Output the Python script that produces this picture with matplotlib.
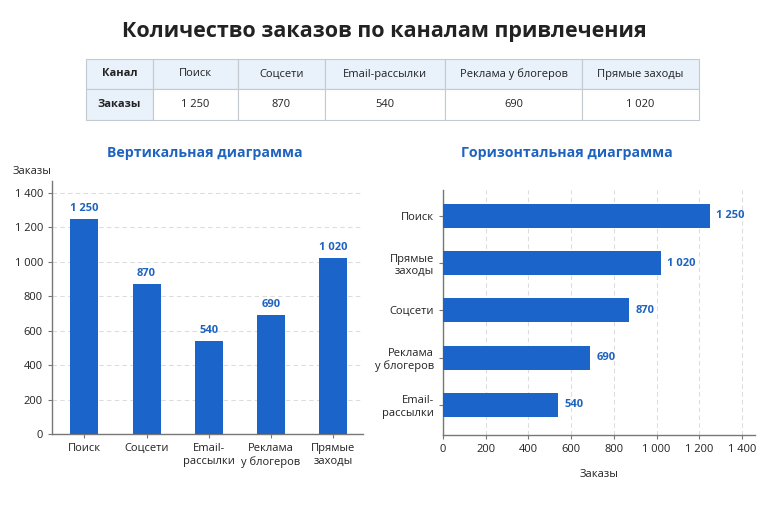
import matplotlib
matplotlib.use('Agg')
import matplotlib.pyplot as plt

plt.rcParams['font.family'] = ['Open Sans', 'DejaVu Sans']

channels = ['Поиск', 'Соцсети', 'Email-рассылки', 'Реклама у блогеров', 'Прямые заходы']
orders = [1250, 870, 540, 690, 1020]

# labels for the vertical chart (two lines)
v_labels = ['Поиск', 'Соцсети', 'Email-\nрассылки', 'Реклама\nу блогеров', 'Прямые\nзаходы']

# horizontal chart, sorted top to bottom
h_labels = ['Поиск', 'Прямые\nзаходы', 'Соцсети', 'Реклама\nу блогеров', 'Email-\nрассылки']
h_orders = [1250, 1020, 870, 690, 540]

ticks = [0, 200, 400, 600, 800, 1000, 1200, 1400]

BLUE = '#1a64ca'
LBLUE = '#1f63c0'
DARK = '#222222'


def fmt(v):
    return '{:,}'.format(v).replace(',', ' ')


W, H = 768, 512
fig = plt.figure(figsize=(W / 100, H / 100), dpi=100)
fig.patch.set_facecolor('white')

fig.text(0.5, 1 - 32 / H, 'Количество заказов по каналам привлечения',
         ha='center', va='center', fontsize=15.5, fontweight='bold', color=DARK)

# table
col_edges = [86, 153, 238, 325, 445, 582, 699]
row_edges = [59, 89, 120]
tab = fig.add_axes([0, 0, 1, 1])
tab.set_xlim(0, W)
tab.set_ylim(H, 0)
tab.axis('off')
rows = [['Канал'] + channels, ['Заказы'] + [fmt(v) for v in orders]]
for r in range(2):
    for c in range(len(col_edges) - 1):
        x0, x1 = col_edges[c], col_edges[c + 1]
        y0, y1 = row_edges[r], row_edges[r + 1]
        face = '#e9f1fb' if (r == 0 or c == 0) else 'white'
        tab.add_patch(plt.Rectangle((x0, y0), x1 - x0, y1 - y0, facecolor=face,
                                    edgecolor='#c4c9d0', linewidth=0.8))
        tab.text((x0 + x1) / 2, (y0 + y1) / 2, rows[r][c], ha='center', va='center',
                 fontsize=8, color=DARK, fontweight='bold' if c == 0 else 'normal')

# vertical chart
ax1 = fig.add_axes([52 / W, 1 - 434 / H, (363 - 52) / W, (434 - 181) / H])
x = range(len(orders))
ax1.bar(x, orders, width=0.45, color=BLUE, zorder=3)
for i, v in enumerate(orders):
    ax1.text(i, v + 30, fmt(v), ha='center', va='bottom', fontsize=8,
             fontweight='bold', color=LBLUE)
ax1.set_xlim(-0.52, 4.48)
ax1.set_ylim(0, 1470)
ax1.set_yticks(ticks)
ax1.set_yticklabels([fmt(t) for t in ticks])
ax1.set_xticks(list(x))
ax1.set_xticklabels(v_labels)
ax1.grid(axis='y', linestyle=(0, (4, 3)), color='#dddddd', linewidth=0.8, zorder=0)
fig.text(205 / W, 1 - 153 / H, 'Вертикальная диаграмма', ha='center', va='center',
         fontsize=10.2, fontweight='bold', color=LBLUE)
fig.text(13 / W, 1 - 172 / H, 'Заказы', ha='left', va='center', fontsize=8, color=DARK)

# horizontal chart
ax2 = fig.add_axes([443 / W, 1 - 435 / H, (755 - 443) / W, (435 - 190) / H])
y = range(len(h_orders))
ax2.barh(y, h_orders, height=0.51, color=BLUE, zorder=3)
for i, v in enumerate(h_orders):
    ax2.text(v + 30, i, fmt(v), ha='left', va='center', fontsize=8,
             fontweight='bold', color=LBLUE)
ax2.set_ylim(4.64, -0.55)
ax2.set_xlim(0, 1461)
ax2.set_xticks(ticks)
ax2.set_xticklabels([fmt(t) for t in ticks])
ax2.set_yticks(list(y))
ax2.set_yticklabels(h_labels)
ax2.grid(axis='x', linestyle=(0, (4, 3)), color='#dddddd', linewidth=0.8, zorder=0)
ax2.set_xlabel('Заказы', fontsize=8, color=DARK, labelpad=10)
fig.text(567 / W, 1 - 153 / H, 'Горизонтальная диаграмма', ha='center', va='center',
         fontsize=10.2, fontweight='bold', color=LBLUE)

for ax in (ax1, ax2):
    for s in ('top', 'right'):
        ax.spines[s].set_visible(False)
    for s in ('left', 'bottom'):
        ax.spines[s].set_color('#777777')
        ax.spines[s].set_linewidth(1.0)
    ax.tick_params(labelsize=8, colors=DARK, length=3, color='#777777')
    ax.set_facecolor('white')

fig.savefig('out.png', dpi=100, facecolor='white')
